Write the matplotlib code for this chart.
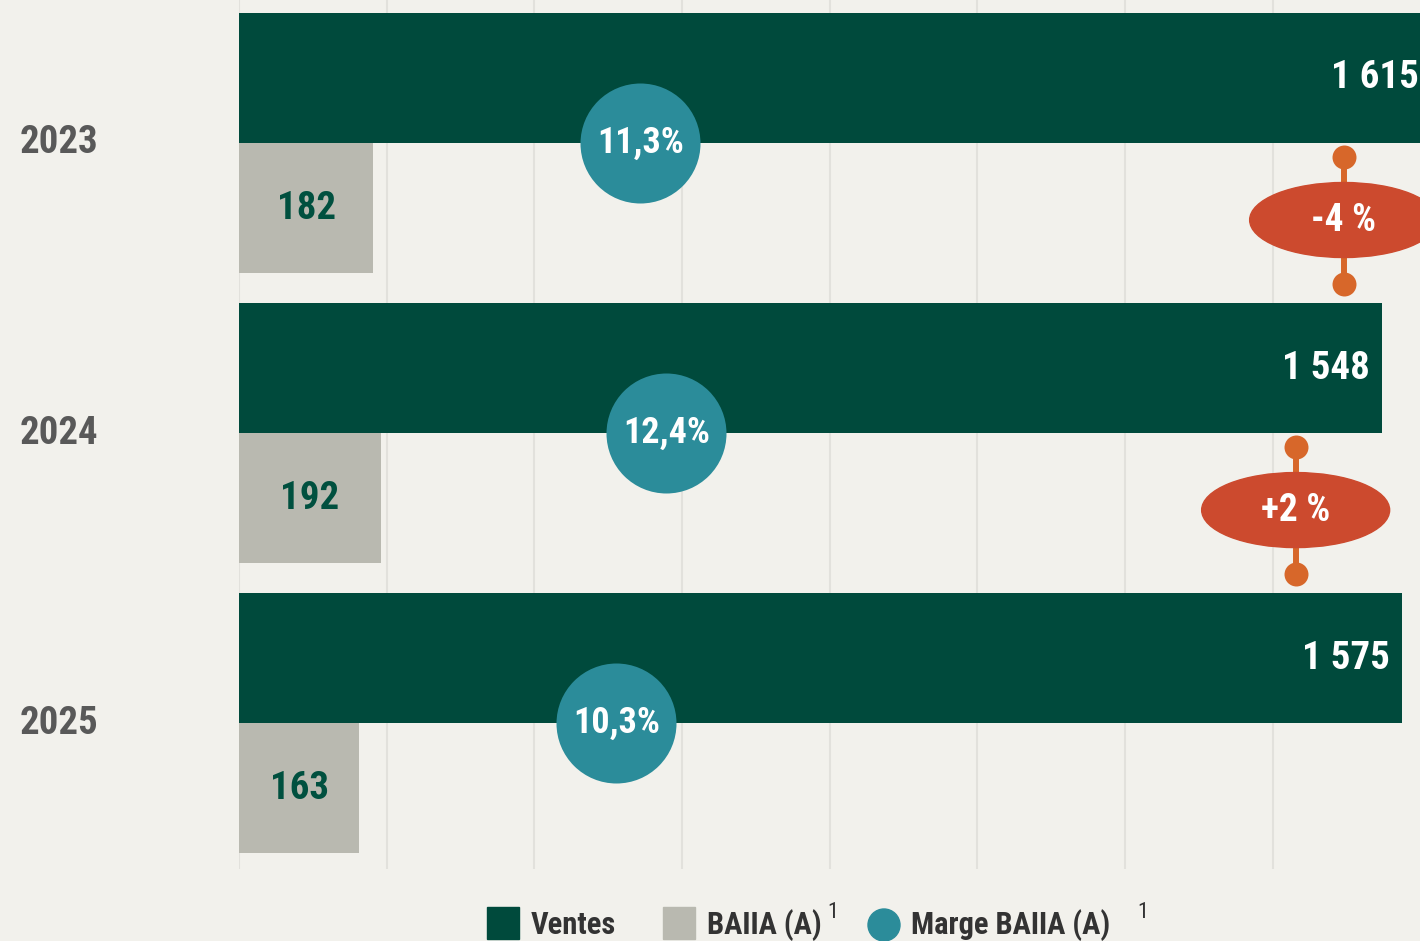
import matplotlib
matplotlib.use('Agg')
import matplotlib.pyplot as plt
from matplotlib.patches import Ellipse, Rectangle

plt.rcParams['font.family'] = ['Roboto Condensed', 'DejaVu Sans']
plt.rcParams['font.weight'] = 'bold'

# data
years = ['2023', '2024', '2025']
ventes = [1615, 1548, 1575]
baiia = [182, 192, 163]
marge = [11.3, 12.4, 10.3]
marge_labels = ['11,3%', '12,4%', '10,3%']
ventes_labels = ['1 615', '1 548', '1 575']
changes = ['-4 %', '+2 %']
change_x = [1496, 1431]

BG = '#f2f1ec'
GREEN = '#004a3c'
GREY = '#b9b9b0'
TEAL = '#2b8c9a'
RED = '#cc4a2e'
ORANGE = '#d7672a'

W, H = 1420, 941
fig = plt.figure(figsize=(W / 100, H / 100), dpi=100, facecolor=BG)
ax = fig.add_axes([239 / W, 1 - 869 / H, 1 - 239 / W, 869 / H])
ax.set_facecolor(BG)
ax.set_xlim(0, (W - 239) / 0.7384)
ax.set_ylim(2.503, -0.493)
for s in ax.spines.values():
    s.set_visible(False)
ax.set_xticks(range(0, 1600, 200))
ax.set_yticks([])
ax.tick_params(axis='x', length=0, labelbottom=False)
ax.grid(axis='x', color='#e2e1dc', lw=1.5)
ax.set_axisbelow(True)

bh = 130 / 290
ypos = list(range(len(years)))
ax.barh([y - bh / 2 for y in ypos], ventes, height=bh, color=GREEN, zorder=2)
ax.barh([y + bh / 2 for y in ypos], baiia, height=bh, color=GREY, zorder=2)

for i, y in enumerate(ypos):
    ax.annotate(ventes_labels[i], (ventes[i], y - bh / 2), xytext=(-9, 0),
                textcoords='offset points', ha='right', va='center',
                color='white', fontsize=28, fontweight='bold', zorder=5,
                annotation_clip=False)
    ax.text(baiia[i] / 2, y + bh / 2, str(baiia[i]), ha='center', va='center',
            color='#00503f', fontsize=28, fontweight='bold', zorder=5)
    ax.text(-219 / 0.7384, y, years[i], ha='left', va='center',
            color='#595959', fontsize=28, fontweight='bold', clip_on=False)

# margin circles on a secondary scale
ax2 = ax.twiny()
ax2.set_xlim(-5.53, 44.01)
ax2.set_ylim(2.503, -0.493)
ax2.axis('off')
ax2.scatter(marge, ypos, s=7465, color=TEAL, zorder=6, linewidths=0)
for i, y in enumerate(ypos):
    ax2.text(marge[i], y, marge_labels[i], ha='center', va='center',
             color='white', fontsize=26, fontweight='bold', zorder=7)

# change markers between years
for i, lab in enumerate(changes):
    cx = change_x[i]
    y0 = i + 14 / 290
    y1 = i + 141 / 290
    yc = i + 77 / 290
    ax.plot([cx, cx], [y0, y1], color=ORANGE, lw=4.3, zorder=7, clip_on=False)
    ax.scatter([cx, cx], [y0, y1], s=298, color=ORANGE, zorder=7, linewidths=0)
    ax.add_patch(Ellipse((cx, yc), 188 / 0.7384, 75 / 290, color=RED, zorder=8))
    ax.text(cx, yc, lab, ha='center', va='center', color='white',
            fontsize=27, fontweight='bold', zorder=9)

# legend
def fx(p):
    return p / W

def fy(p):
    return 1 - p / H

fig.add_artist(Rectangle((fx(487), fy(939)), 32 / W, 32 / H, color=GREEN,
                         transform=fig.transFigure))
fig.text(fx(531), fy(925), 'Ventes', ha='left', va='center', color='#333333',
         fontsize=22, fontweight='bold')
fig.add_artist(Rectangle((fx(663), fy(939)), 32 / W, 32 / H, color=GREY,
                         transform=fig.transFigure))
fig.text(fx(707), fy(925), 'BAIIA (A)', ha='left', va='center', color='#333333',
         fontsize=22, fontweight='bold')
fig.text(fx(827), fy(912), '1', ha='left', va='center', color='#333333',
         fontsize=16, fontweight='normal')
fig.add_artist(Ellipse((fx(884), fy(925)), 32 / W, 32 / H, color=TEAL,
                       transform=fig.transFigure))
fig.text(fx(911), fy(925), 'Marge BAIIA (A)', ha='left', va='center',
         color='#333333', fontsize=22, fontweight='bold')
fig.text(fx(1137), fy(912), '1', ha='left', va='center', color='#333333',
         fontsize=16, fontweight='normal')

fig.savefig('out.png', dpi=100, facecolor=BG)
